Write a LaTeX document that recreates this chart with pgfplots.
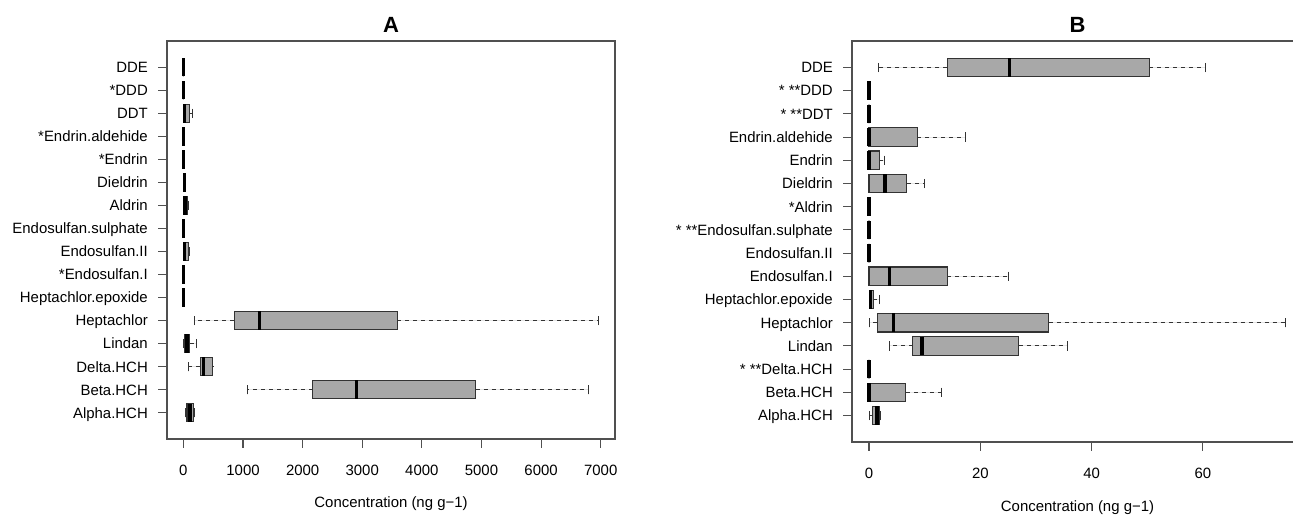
\documentclass[border=0pt]{standalone}
\usepackage{fontspec}
\setmainfont{Liberation Sans}
\usepackage{pgfplots}
\pgfplotsset{compat=1.18}
\usepgfplotslibrary{statistics}
\definecolor{boxfill}{HTML}{A8A8A8}
\definecolor{boxline}{HTML}{333333}
\definecolor{framec}{HTML}{505050}

\pgfplotsset{
  /pgfplots/boxplot/draw/lower whisker/.code={%
    \draw[boxline, line width=0.75pt, dash pattern=on 3pt off 3pt]
      (boxplot box cs:\pgfplotsboxplotvalue{lower quartile},0.5) --
      (boxplot box cs:\pgfplotsboxplotvalue{lower whisker},0.5);
    \draw[boxline, line width=0.75pt]
      (boxplot whisker cs:\pgfplotsboxplotvalue{lower whisker},0) --
      (boxplot whisker cs:\pgfplotsboxplotvalue{lower whisker},1);
  },
  /pgfplots/boxplot/draw/upper whisker/.code={%
    \draw[boxline, line width=0.75pt, dash pattern=on 3pt off 3pt]
      (boxplot box cs:\pgfplotsboxplotvalue{upper quartile},0.5) --
      (boxplot box cs:\pgfplotsboxplotvalue{upper whisker},0.5);
    \draw[boxline, line width=0.75pt]
      (boxplot whisker cs:\pgfplotsboxplotvalue{upper whisker},0) --
      (boxplot whisker cs:\pgfplotsboxplotvalue{upper whisker},1);
  },
  bxstyle/.style={
    draw=boxline, fill=boxfill, line width=0.8pt, solid,
    boxplot/draw direction=x,
    boxplot/box extend=0.8,
    boxplot/whisker extend=0.4,
    boxplot/every median/.style={line width=2.6pt, draw=black},
  },
  panel/.style={
    scale only axis,
    anchor=south west,
    ymin=-0.14, ymax=17.14,
    ytick={1,...,16},
    axis line style={framec, line width=0.8pt},
    tick style={framec, line width=0.8pt},
    tick align=outside,
    major tick length=6.5pt,
    xtick pos=left, ytick pos=left,
    font=\fontsize{11.2}{13}\selectfont,
    /pgf/number format/assume math mode=true,
    /pgf/number format/1000 sep={},
    scaled ticks=false,
    yticklabel style={anchor=east, inner sep=0pt, text height=8pt, text depth=0pt, xshift=-7.7pt},
    xticklabel style={anchor=north, inner sep=0pt, text height=8pt, text depth=0pt, yshift=-12.5pt},
    title style={font=\fontsize{16.5}{18}\selectfont\bfseries, at={(0.5,1)}, anchor=base, yshift=0.6pt},
    xlabel style={at={(0.5,0)}, anchor=base, yshift=-51.75pt},
  },
}
\newcommand{\boxrow}[6]{\addplot[bxstyle, boxplot prepared={draw position=#1, lower whisker=#2, lower quartile=#3, median=#4, upper quartile=#5, upper whisker=#6}] coordinates {};}

\begin{document}
\begin{tikzpicture}[trim left=0pt, trim right=969.75pt]
\path (0,0) rectangle (969.75pt,385.5pt);
% Panel A
\begin{axis}[panel,
  at={(125.25pt,56.25pt)},
  width=336pt, height=298.5pt,
  xmin=-275, xmax=7240,
  xtick={0,1000,...,7000},
  yticklabels={Alpha.HCH,Beta.HCH,Delta.HCH,Lindan,Heptachlor,Heptachlor.epoxide,*Endosulfan.I,Endosulfan.II,Endosulfan.sulphate,Aldrin,Dieldrin,*Endrin,*Endrin.aldehide,DDT,*DDD,DDE},
  title={A},
  xlabel={Concentration (ng g−1)},
]
\boxrow{16}{0}{0}{0}{0}{0}
\boxrow{15}{0}{0}{0}{0}{0}
\boxrow{14}{0}{5}{20}{100}{150}
\boxrow{13}{0}{0}{0}{0}{0}
\boxrow{12}{0}{0}{0}{0}{0}
\boxrow{11}{15}{15}{15}{15}{15}
\boxrow{10}{0}{10}{30}{70}{80}
\boxrow{9}{0}{0}{0}{0}{0}
\boxrow{8}{0}{10}{20}{90}{110}
\boxrow{7}{0}{0}{0}{0}{0}
\boxrow{6}{0}{0}{0}{0}{0}
\boxrow{5}{180}{850}{1280}{3590}{6970}
\boxrow{4}{0}{15}{60}{110}{225}
\boxrow{3}{80}{280}{340}{490}{495}
\boxrow{2}{1080}{2170}{2900}{4900}{6800}
\boxrow{1}{30}{60}{110}{170}{190}
\end{axis}
% Panel B
\begin{axis}[panel,
  at={(639pt,54pt)},
  width=338.25pt, height=300.75pt,
  xmin=-3.06, xmax=78,
  xtick={0,20,40,60},
  yticklabels={Alpha.HCH,Beta.HCH,* **Delta.HCH,Lindan,Heptachlor,Heptachlor.epoxide,Endosulfan.I,Endosulfan.II,* **Endosulfan.sulphate,*Aldrin,Dieldrin,Endrin,Endrin.aldehide,* **DDT,* **DDD,DDE},
  title={B},
  xlabel={Concentration (ng g−1)},
  xlabel style={yshift=-0.75pt},
]
\boxrow{16}{1.7}{14.1}{25.2}{50.4}{60.4}
\boxrow{15}{0}{0}{0}{0}{0}
\boxrow{14}{0}{0}{0}{0}{0}
\boxrow{13}{0}{0}{0}{8.7}{17.4}
\boxrow{12}{0}{0}{0}{1.8}{2.7}
\boxrow{11}{0}{0}{2.9}{6.8}{9.9}
\boxrow{10}{0}{0}{0}{0}{0}
\boxrow{9}{0}{0}{0}{0}{0}
\boxrow{8}{0}{0}{0}{0}{0}
\boxrow{7}{0}{0}{3.65}{14.1}{25.0}
\boxrow{6}{0}{0.1}{0.3}{0.8}{1.8}
\boxrow{5}{0}{1.5}{4.4}{32.3}{74.8}
\boxrow{4}{3.6}{7.85}{9.5}{26.9}{35.6}
\boxrow{3}{0}{0}{0}{0}{0}
\boxrow{2}{0}{0}{0}{6.6}{13.0}
\boxrow{1}{0}{0.7}{1.4}{1.9}{2.0}
\end{axis}
\end{tikzpicture}
\end{document}
